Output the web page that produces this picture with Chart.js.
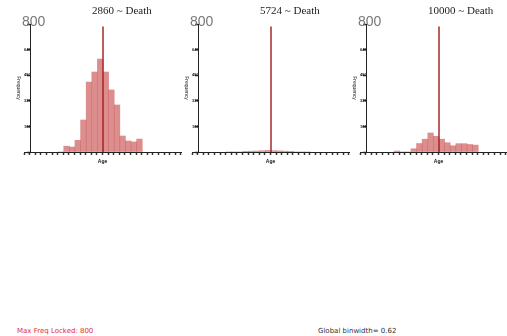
<!DOCTYPE html>
<html>
<head>
<meta charset="utf-8">
<script src="https://cdn.jsdelivr.net/npm/chart.js@4.4.1/dist/chart.umd.min.js"></script>
<style>
  html, body { margin: 0; padding: 0; background: #fff; }
  body { width: 507px; height: 336px; position: relative; overflow: hidden; }
  .panel { position: absolute; top: 0; width: 190px; height: 168px; }
  .note { position: absolute; top: 327px; font: 7px "DejaVu Sans", sans-serif; line-height: 9px; white-space: nowrap; }
</style>
</head>
<body>
<div class="panel" style="left:0px"><canvas id="hist0"></canvas></div>
<div class="panel" style="left:168px"><canvas id="hist1"></canvas></div>
<div class="panel" style="left:336px"><canvas id="hist2"></canvas></div>
<div class="note" style="left:17px;color:#e03030">Max Freq Locked: 800</div>
<div class="note" style="left:318px;color:#333">Global binwidth= 0.62</div>
<script>
// Age bins (centres, in bin units) shared by all three histograms
const binCentres = [6.5, 7.5, 8.5, 9.5, 10.5, 11.5, 12.5, 13.5, 14.5, 15.5, 16.5, 17.5, 18.5, 19.5, 20.5];

// Frequencies per bin
const freq2860  = [0, 36, 31, 73, 200, 437, 500, 581, 500, 388, 294, 100, 69, 63, 81];
const freq5724  = [0, 0, 0, 2, 5, 6, 8, 10, 8, 7, 5, 2, 0, 0, 0];
const freq10000 = [6, 0, 0, 20, 53, 80, 119, 98, 80, 58, 39, 52, 52, 47, 43];

const panelLabels = ['2860 ~ Death', '5724 ~ Death', '10000 ~ Death'];
const deathAt = [14, 14, 14];
const deathTop = 785;
const yTicks = [0, 160, 320, 480, 640, 800];
const maxFreq = 800;

// axis range (bin units)
const xMin = 0.41;
const xMax = 27.41;
const yAxisAt = 1.1;

// big "800" over the y axis and the title of each panel
const panelText = {
  id: 'panelText',
  afterDraw(chart, args, opts) {
    const { ctx, chartArea, scales } = chart;
    const ax = scales.x.getPixelForValue(yAxisAt);
    ctx.save();
    ctx.textBaseline = 'middle';
    ctx.textAlign = 'center';
    ctx.fillStyle = '#777';
    ctx.font = '14px "Liberation Sans Narrow", "Liberation Sans", sans-serif';
    ctx.fillText(String(maxFreq), ax + 3, scales.y.getPixelForValue(maxFreq) - 1.5);
    ctx.textAlign = 'left';
    ctx.fillStyle = '#222';
    ctx.font = '11px "Liberation Serif", serif';
    ctx.fillText(opts.label, chartArea.left + 68, 11.5);
    ctx.restore();
  }
};

function makeHistogram(canvasId, freq, label, death) {
  const ctx = document.getElementById(canvasId).getContext('2d');
  return new Chart(ctx, {
    type: 'bar',
    data: {
      datasets: [
        {
          type: 'line',
          data: [{ x: death, y: 0 }, { x: death, y: deathTop }],
          borderColor: '#a82828',
          borderWidth: 1.5,
          pointRadius: 0,
          order: 0,
        },
        {
          data: binCentres.map((x, i) => ({ x, y: freq[i] })),
          backgroundColor: 'rgba(205, 92, 92, 0.7)',
          borderWidth: 0,
          barPercentage: 1,
          categoryPercentage: 1,
          order: 1,
        },
      ],
    },
    options: {
      responsive: true,
      maintainAspectRatio: false,
      animation: false,
      layout: { padding: { left: 24, right: 9, top: 24, bottom: 2 } },
      plugins: {
        legend: { display: false },
        tooltip: { enabled: false },
        panelText: { label },
      },
      scales: {
        x: {
          type: 'linear',
          min: xMin,
          max: xMax,
          ticks: { stepSize: 1, includeBounds: false, display: false, autoSkip: false },
          grid: { drawOnChartArea: false, tickLength: 3, tickWidth: 1.5, color: '#333' },
          border: { color: '#222', width: 1 },
          title: { display: true, text: 'Age', color: '#111', font: { size: 5, weight: 'bold' }, padding: { top: 4, bottom: 1 } },
        },
        y: {
          position: { x: yAxisAt },
          min: 0,
          max: maxFreq,
          afterBuildTicks: (scale) => { scale.ticks = yTicks.map((v) => ({ value: v })); },
          ticks: {
            padding: 0,
            color: '#222',
            font: { size: 4, weight: 'bold' },
            callback: (v) => (v === 0 || v === maxFreq ? '' : v),
          },
          grid: { drawOnChartArea: false, tickLength: 3, tickWidth: 1.5, color: '#222' },
          border: { color: '#222', width: 1 },
          title: { display: true, text: 'Frequency', color: '#222', font: { size: 5 }, padding: { top: 0, bottom: 2 } },
        },
      },
    },
    plugins: [panelText],
  });
}

makeHistogram('hist0', freq2860, panelLabels[0], deathAt[0]);
makeHistogram('hist1', freq5724, panelLabels[1], deathAt[1]);
makeHistogram('hist2', freq10000, panelLabels[2], deathAt[2]);
</script>
</body>
</html>
